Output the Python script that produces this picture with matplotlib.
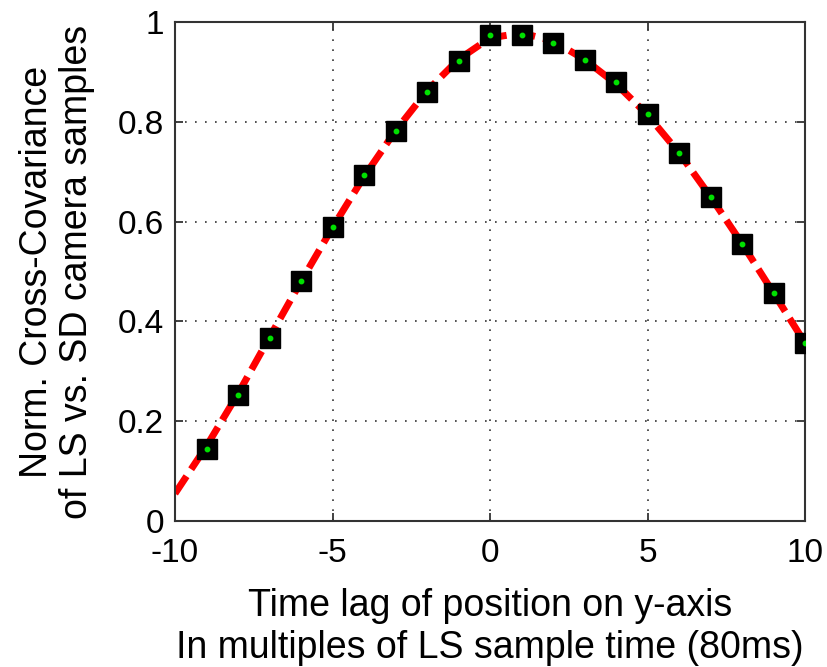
import numpy as np
import matplotlib.pyplot as plt

plt.rcParams['font.family'] = ['Liberation Sans', 'DejaVu Sans']

# lag (in multiples of LS sample time) and normalised cross-covariance
lag = [-9, -8, -7, -6, -5, -4, -3, -2, -1, 0, 1, 2, 3, 4, 5, 6, 7, 8, 9, 10]
cov = [0.144, 0.252, 0.367, 0.481, 0.589, 0.693, 0.782, 0.860, 0.922, 0.974,
       0.974, 0.958, 0.924, 0.880, 0.816, 0.737, 0.649, 0.555, 0.457, 0.357]

# fitted curve (red dashed)
fit_lag = [-10, -9, -8, -7, -6, -5, -4, -3, -2, -1, 0, 1, 2, 3, 4, 5, 6, 7, 8, 9, 10]
fit_cov = [0.055, 0.150, 0.255, 0.368, 0.480, 0.588, 0.690, 0.782, 0.862, 0.925,
           0.968, 0.978, 0.962, 0.925, 0.876, 0.814, 0.738, 0.650, 0.556, 0.457, 0.357]

xticks = [-10, -5, 0, 5, 10]
xticklabels = ['-10', '-5', '0', '5', '10']
yticks = [0, 0.2, 0.4, 0.6, 0.8, 1]
yticklabels = ['0', '0.2', '0.4', '0.6', '0.8', '1']

fig = plt.figure(figsize=(8.27, 6.67), dpi=100)
ax = fig.add_axes([175/827, 1 - 521/667, 630/827, 499/667])

ax.plot(fit_lag, fit_cov, '--', color='red', lw=5, dashes=(3, 1.2), zorder=2)
ax.plot(lag, cov, 's', color='black', ms=14, zorder=3)
ax.plot(lag, cov, 'o', color='#00e000', ms=3.2, zorder=4)

ax.set_xlim(-10, 10)
ax.set_ylim(0, 1)
ax.set_xticks(xticks)
ax.set_xticklabels(xticklabels)
ax.set_yticks(yticks)
ax.set_yticklabels(yticklabels)
ax.grid(True, ls=(0, (1, 5)), color='#333333', lw=1.2)
ax.tick_params(direction='in', top=True, right=True, length=6, width=1.3,
               labelsize=24, color='#333333')
ax.tick_params(axis='y', pad=8)
ax.tick_params(axis='x', pad=12)
for s in ax.spines.values():
    s.set_linewidth(1.5)
    s.set_color('#333333')

ax.set_xlabel('Time lag of position on y-axis\nIn multiples of LS sample time (80ms)',
              fontsize=27, labelpad=14, linespacing=1.2)
ax.set_ylabel('Norm. Cross-Covariance\nof LS vs. SD camera samples', fontsize=27,
              labelpad=16, linespacing=1.15)

fig.savefig('out.png', dpi=100)
